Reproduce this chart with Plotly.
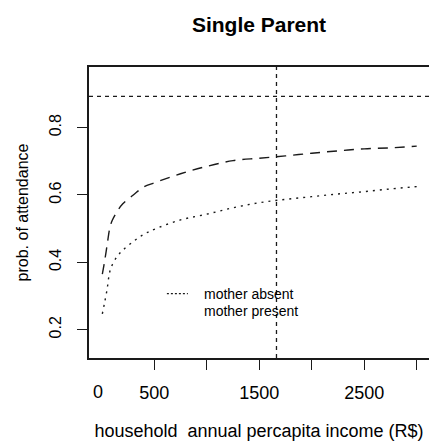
import plotly.graph_objects as go

# Household annual per-capita income (R$)
income = [5, 25, 50, 75, 100, 150, 200, 300, 400, 500, 750, 1000,
          1250, 1500, 1750, 2000, 2250, 2500, 2750, 3000]

# Predicted probability of school attendance, single-parent households
mother_present = [0.365, 0.400, 0.450, 0.500, 0.525, 0.553, 0.574, 0.600,
                  0.624, 0.636, 0.663, 0.685, 0.702, 0.709, 0.716, 0.724,
                  0.731, 0.737, 0.740, 0.745]
mother_absent = [0.247, 0.278, 0.319, 0.371, 0.393, 0.419, 0.436, 0.462,
                 0.483, 0.498, 0.526, 0.543, 0.562, 0.577, 0.587, 0.595,
                 0.603, 0.610, 0.618, 0.625]

# Reference levels
mean_income = 1664
ref_prob = 0.893

x_ticks = [500, 1000, 1500, 2000, 2500, 3000]
x_ticktext = ["500", "", "1500", "", "2500", ""]
y_ticks = [0.2, 0.4, 0.6, 0.8]
y_ticktext = ["0.2", "0.4", "0.6", "0.8"]

FONT = "Liberation Sans, Arial, sans-serif"
INK = "#1a1a1a"

fig = go.Figure()
fig.add_trace(go.Scatter(
    x=income, y=mother_present, mode="lines", name="mother present",
    line=dict(color=INK, width=1.4, dash="10px,7px", shape="spline"),
    showlegend=False))
fig.add_trace(go.Scatter(
    x=income, y=mother_absent, mode="lines", name="mother absent",
    line=dict(color=INK, width=1.4, dash="2px,5px", shape="spline"),
    showlegend=False))

# dashed reference lines
fig.add_shape(type="line", xref="paper", yref="y", x0=0, x1=1,
              y0=ref_prob, y1=ref_prob,
              line=dict(color=INK, width=1.3, dash="4px,4px"))
fig.add_shape(type="line", xref="x", yref="paper", x0=mean_income, x1=mean_income,
              y0=0, y1=1, line=dict(color=INK, width=1.3, dash="4px,4px"))

# legend
fig.add_shape(type="line", xref="x", yref="y", x0=620, x1=820, y0=0.307, y1=0.307,
              line=dict(color=INK, width=1.2, dash="2px,2px"))
fig.add_annotation(x=955, y=0.307, xref="x", yref="y", text="mother absent",
                   showarrow=False, xanchor="left", yanchor="middle",
                   font=dict(family=FONT, size=14, color="black"))
fig.add_annotation(x=955, y=0.257, xref="x", yref="y", text="mother present",
                   showarrow=False, xanchor="left", yanchor="middle",
                   font=dict(family=FONT, size=14, color="black"))

# "0" label at the origin of the income axis
fig.add_annotation(x=-35, y=-0.118, xref="x", yref="paper", text="0",
                   showarrow=False, xanchor="center", yanchor="middle",
                   font=dict(family=FONT, size=18, color="black"))

fig.update_layout(
    width=429, height=445,
    margin=dict(l=89, r=0, t=67, b=87),
    paper_bgcolor="white", plot_bgcolor="white",
    title=dict(text="<b>Single Parent</b>", x=0.5, xref="paper", xanchor="center",
               y=1 - 25 / 445, yref="container", yanchor="middle",
               font=dict(family=FONT, size=21, color="black")),
    font=dict(family=FONT, color="black"),
)
fig.update_xaxes(
    range=[-122, 3117], showgrid=False, zeroline=False,
    showline=True, linecolor=INK, linewidth=1.5, mirror=True,
    ticks="outside", ticklen=10, tickwidth=1.3, tickcolor=INK,
    tickvals=x_ticks, ticktext=x_ticktext, ticklabelstandoff=8,
    tickfont=dict(family=FONT, size=18, color="black"),
    title=dict(text="household  annual percapita income (R$)", standoff=22,
               font=dict(family=FONT, size=18, color="black")),
)
fig.update_yaxes(
    range=[0.116, 0.980], showgrid=False, zeroline=False,
    showline=True, linecolor=INK, linewidth=1.5, mirror=False,
    ticks="outside", ticklen=10, tickwidth=1.3, tickcolor=INK,
    tickvals=y_ticks, ticktext=y_ticktext, tickangle=-90, ticklabelstandoff=10,
    tickfont=dict(family=FONT, size=16, color="black"),
    title=dict(text="prob. of attendance", standoff=14,
               font=dict(family=FONT, size=16, color="black")),
)

fig.write_html("out.html")
